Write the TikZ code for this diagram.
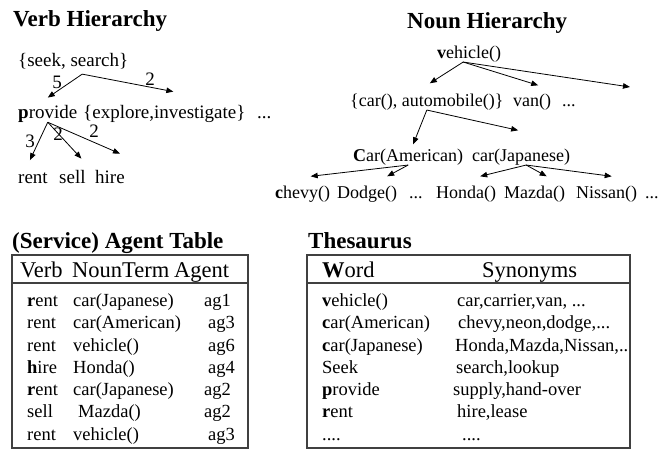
\documentclass[tikz,border=0pt]{standalone}
\usepackage{fontspec}
\setmainfont{Liberation Serif}
\usepackage{tikz}
\usetikzlibrary{arrows.meta, positioning}

\begin{document}
\begin{tikzpicture}[x=1pt, y=-1pt,
        ttl/.style={font=\fontsize{23}{26}\selectfont\bfseries, anchor=base west, inner sep=0pt},
        vw/.style={font=\fontsize{19}{22}\selectfont, anchor=base west, inner sep=0pt},
        nw/.style={font=\fontsize{18}{21}\selectfont, anchor=base west, inner sep=0pt},
        wt/.style={font=\fontsize{19}{22}\selectfont, inner sep=0pt},
        hd/.style={font=\fontsize{22.5}{26}\selectfont, anchor=base west, inner sep=0pt},
        cell/.style={font=\fontsize{18.5}{21}\selectfont, anchor=base west, inner sep=0pt},
        arr/.style={-{Triangle[length=7pt,width=5.5pt]}, line width=0.8pt},
        tbl/.style={draw=black!75, line width=1.2pt}]
    \useasboundingbox (0,0) rectangle (663,450);

    % Cây động từ
    \node[ttl] (vtitle) at (13,26) {Verb Hierarchy};
    \node[vw] (seek) at (18,66) {\{seek, search\}};
    \node[vw] (prov) at (18,118) {\textbf{p}rovide};
    \node[vw] (expl) at (83,118) {\{explore,investigate\}};
    \node[vw] (vdots) at (257,118) {...};
    \node[vw] (rent) at (18,183) {rent};
    \node[vw] (sell) at (59,183) {sell};
    \node[vw] (hire) at (95,183) {hire};

    % Mũi tên và trọng số
    \coordinate (seekf) at ([xshift=9pt,yshift=-5pt]seek.south);
    \draw[arr] (seekf) -- ([yshift=7pt]prov.north);
    \draw[arr] (seekf) -- ([xshift=9pt,yshift=13pt]expl.north);
    \draw[arr] (prov.south) -- ([xshift=-3pt,yshift=12pt]rent.north);
    \draw[arr] (prov.south) -- ([xshift=9pt,yshift=11pt]sell.north);
    \draw[arr] (prov.south) -- ([xshift=10pt,yshift=16pt]hire.north);
    \node[wt] (w1) at (57,82) {5};
    \node[wt] (w2) at (150,79) {2};
    \node[wt] (w3) at (30,141) {3};
    \node[wt] (w4) at (58,134) {2};
    \node[wt] (w5) at (94,131) {2};

    % Cây danh từ
    \node[ttl] (ntitle) at (407,28) {Noun Hierarchy};
    \node[nw] (veh) at (437,58) {\textbf{v}ehicle()};
    \node[nw] (carauto) at (350,106) {\{car(), automobile()\}};
    \node[nw] (van) at (513,106) {van()};
    \node[nw] (vandots) at (562,106) {...};
    \coordinate (vmore) at (630,87);
    \node[nw] (carA) at (353,161) {\textbf{C}ar(American)};
    \node[nw] (carJ) at (472,161) {car(Japanese)};
    \node[nw] (chevy) at (275,198) {\textbf{c}hevy()};
    \node[nw] (dodge) at (337,198) {Dodge()};
    \node[nw] (ndots1) at (409,198) {...};
    \node[nw] (honda) at (436,198) {Honda()};
    \node[nw] (mazda) at (504,198) {Mazda()};
    \node[nw] (nissan) at (576,198) {Nissan()};
    \node[nw] (ndots2) at (645,198) {...};

    % Mũi tên cây danh từ
    \coordinate (vehf) at ([xshift=-6pt]veh.south);
    \draw[arr] (vehf) -- ([xshift=3pt,yshift=10pt]carauto.north);
    \draw[arr] (vehf) -- ([xshift=6pt,yshift=8pt]van.north);
    \draw[arr] (vehf) -- (vmore);
    \draw[arr] (carauto.south) -- ([xshift=5pt,yshift=4pt]carA.north);
    \draw[arr] (carauto.south) -- ([xshift=-3pt,yshift=18pt]carJ.north);
    \draw[arr] (carA.south) -- ([xshift=8pt,yshift=9pt]chevy.north);
    \draw[arr] (carA.south) -- ([xshift=20pt,yshift=9pt]dodge.north);
    \coordinate (carJf) at ([xshift=5pt]carJ.south);
    \draw[arr] (carJf) -- ([xshift=14pt,yshift=9pt]honda.north);
    \draw[arr] (carJf) -- ([xshift=12pt,yshift=9pt]mazda.north);
    \draw[arr] (carJf) -- ([xshift=5pt,yshift=9pt]nissan.north);

    % Bảng tác tử (dịch vụ)
    \node[ttl] (atitle) at (12,248) {(Service) Agent Table};
    \draw[tbl] (12,255) rectangle (248,448);
    \draw[tbl] (12,283) -- (248,283);
    \node[hd] (hverb) at (20,277) {Verb};
    \node[hd] (hnoun) at (72,277) {NounTerm};
    \node[hd] (hagent) at (174,277) {Agent};
    \node[cell] (a1v) at (27,306) {\textbf{r}ent}; \node[cell] (a1n) at (73,306) {car(Japanese)}; \node[cell] (a1g) at (204,306) {ag1};
    \node[cell] (a2v) at (27,328) {rent}; \node[cell] (a2n) at (73,328) {car(American)}; \node[cell] (a2g) at (208,328) {ag3};
    \node[cell] (a3v) at (27,351) {rent}; \node[cell] (a3n) at (73,351) {vehicle()}; \node[cell] (a3g) at (208,351) {ag6};
    \node[cell] (a4v) at (27,373) {\textbf{h}ire}; \node[cell] (a4n) at (73,373) {Honda()}; \node[cell] (a4g) at (208,373) {ag4};
    \node[cell] (a5v) at (27,395) {\textbf{r}ent}; \node[cell] (a5n) at (73,395) {car(Japanese)}; \node[cell] (a5g) at (204,395) {ag2};
    \node[cell] (a6v) at (27,417) {sell}; \node[cell] (a6n) at (78,417) {Mazda()}; \node[cell] (a6g) at (204,417) {ag2};
    \node[cell] (a7v) at (27,440) {rent}; \node[cell] (a7n) at (73,440) {vehicle()}; \node[cell] (a7g) at (208,440) {ag3};

    % Từ điển đồng nghĩa
    \node[ttl] (ttitle) at (308,248) {Thesaurus};
    \draw[tbl] (307,255) rectangle (630,448);
    \draw[tbl] (307,283) -- (630,283);
    \node[hd] (hword) at (322,277) {\textbf{W}ord};
    \node[hd] (hsyn) at (482,277) {Synonyms};
    \node[cell] (t1w) at (322,306) {\textbf{v}ehicle()}; \node[cell] (t1s) at (457,306) {car,carrier,van, ...};
    \node[cell] (t2w) at (322,328) {\textbf{c}ar(American)}; \node[cell] (t2s) at (458,328) {chevy,neon,dodge,...};
    \node[cell] (t3w) at (322,351) {\textbf{c}ar(Japanese)}; \node[cell] (t3s) at (455,351) {Honda,Mazda,Nissan,..};
    \node[cell] (t4w) at (322,373) {Seek}; \node[cell] (t4s) at (456,373) {search,lookup};
    \node[cell] (t5w) at (322,395) {\textbf{p}rovide}; \node[cell] (t5s) at (453,395) {supply,hand-over};
    \node[cell] (t6w) at (322,417) {\textbf{r}ent}; \node[cell] (t6s) at (457,417) {hire,lease};
    \node[cell] (t7w) at (322,440) {....}; \node[cell] (t7s) at (462,440) {....};
\end{tikzpicture}
\end{document}
